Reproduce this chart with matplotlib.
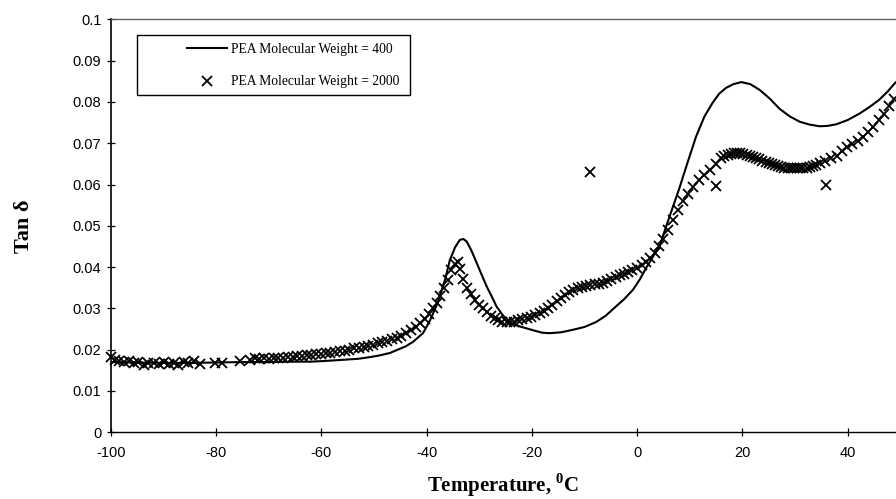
import numpy as np
import matplotlib.pyplot as plt
from matplotlib.patches import Rectangle

plt.rcParams['mathtext.fontset'] = 'custom'
plt.rcParams['mathtext.bf'] = 'Liberation Serif:bold'
plt.rcParams['mathtext.rm'] = 'Liberation Serif'
plt.rcParams['axes.unicode_minus'] = False

# PEA MW = 400 (solid curve)
temp_400 = [-100, -95, -90, -85, -80, -75, -70, -65, -62, -59, -56.5, -53, -50.8, -49, -47,
            -45.7, -44, -42.6, -40.7, -39.4, -38.1, -37.5, -36.5, -35.6, -34.6, -33.7, -33,
            -32.4, -31.5, -30.5, -29.5, -28.6, -27.6, -26.7, -25.5, -24.2, -22.5, -21.1, -19.5,
            -18, -16.6, -14.5, -12.3, -10, -7.8, -6, -4, -2.5, -0.8, 0.5, 1.8, 3, 4.3, 5.5, 6.8,
            8, 9.5, 11.2, 12.8, 14.3, 15.6, 16.9, 18.3, 19.8, 21.5, 23.3, 25.2, 27.1, 29, 30.9,
            32.8, 34.7, 36.3, 37.9, 40, 42.3, 44.2, 46, 47.6, 49.1]
tan_400 = [0.0170, 0.0169, 0.0168, 0.0168, 0.0169, 0.0170, 0.0170, 0.0171, 0.0171, 0.0173,
           0.0175, 0.0178, 0.0182, 0.0186, 0.0192, 0.0199, 0.0208, 0.0219, 0.0240, 0.0270,
           0.0308, 0.0330, 0.0370, 0.0417, 0.0448, 0.0466, 0.0468, 0.0462, 0.0440, 0.0410,
           0.0380, 0.0353, 0.0328, 0.0304, 0.0283, 0.0265, 0.0257, 0.0252, 0.0246, 0.0241,
           0.0240, 0.0242, 0.0248, 0.0255, 0.0267, 0.0282, 0.0305, 0.0322, 0.0345, 0.0370,
           0.0400, 0.0425, 0.0452, 0.0498, 0.0546, 0.0590, 0.0650, 0.0716, 0.0765, 0.0797,
           0.0820, 0.0834, 0.0843, 0.0848, 0.0843, 0.0829, 0.0808, 0.0783, 0.0765, 0.0752,
           0.0745, 0.0741, 0.0742, 0.0746, 0.0756, 0.0772, 0.0788, 0.0805, 0.0825, 0.0847]

# PEA MW = 2000 (x markers)
temp_2000 = [-100, -99.2, -98.4, -97.5, -96.6, -95.7, -94.8, -93.8, -92.9, -91.9, -90.9, -90,
             -89, -88.1, -87.2, -86.2, -85.3, -84.3, -83, -80.2, -79, -75.5, -73.6, -72.7,
             -71.8, -70.9, -70, -69.1, -68.2, -67.3, -66.4, -65.5, -64.6, -63.7, -62.8, -61.9,
             -61, -60.1, -59.2, -58.3, -57.4, -56.5, -55.6, -54.7, -53.8, -52.9, -52, -51.1,
             -50.2, -49.3, -48.4, -47.5, -46.6, -45.7, -44.8, -43.9, -43, -42.1, -41.2, -40.4,
             -39.5, -38.8, -38.1, -37.4, -36.7, -36, -35.3, -34.7, -34.1, -33.6, -33.1, -32.3,
             -31.6, -30.8, -30, -29.3, -28.6, -27.8, -27.1, -26.4, -25.6, -24.8, -24.1, -23.4,
             -22.6, -21.8, -21, -20.2, -19.4, -18.5, -17.7, -16.9, -16.1, -15.3, -14.5, -13.7,
             -12.9, -12.1, -11.3, -10.5, -9.7, -8.9, -8.1, -7.3, -6.5, -5.7, -4.9, -4.1, -3.3,
             -2.5, -1.7, -0.9, 0, 0.9, 1.7, 2.5, 3.3, 4.1, 4.9, 5.8, 6.8, 7.7, 8.7, 9.7, 10.7,
             11.7, 12.7, 13.8, 14.9, 16, 16.6, 17.2, 17.8, 18.4, 19, 19.6, 20.2, 20.8, 21.4, 22,
             22.6, 23.2, 23.8, 24.4, 25, 25.6, 26.2, 26.8, 27.4, 28, 28.6, 29.2, 29.8, 30.4, 31,
             31.6, 32.2, 32.8, 33.4, 34, 34.7, 35.7, 36.8, 37.9, 38.9, 39.9, 40.9, 41.9, 42.9,
             43.9, 44.9, 45.9, 46.9, 47.9, 48.9,
             -9, 15.0, 35.9]
tan_2000 = [0.0183, 0.0176, 0.0172, 0.0170, 0.0173, 0.0168, 0.0170, 0.0162, 0.0167, 0.0168,
            0.0166, 0.0169, 0.0165, 0.0168, 0.0164, 0.0170, 0.0168, 0.0172, 0.0165, 0.0167,
            0.0168, 0.0173, 0.0176, 0.0180, 0.0177, 0.0180, 0.0178, 0.0180, 0.0179, 0.0181,
            0.0182, 0.0183, 0.0184, 0.0185, 0.0186, 0.0188, 0.0189, 0.0190, 0.0191, 0.0193,
            0.0194, 0.0196, 0.0198, 0.0200, 0.0203, 0.0205, 0.0207, 0.0209, 0.0212, 0.0215,
            0.0218, 0.0221, 0.0225, 0.0229, 0.0234, 0.0240, 0.0248, 0.0255, 0.0264, 0.0275,
            0.0287, 0.0300, 0.0312, 0.0330, 0.0350, 0.0368, 0.0392, 0.0408, 0.0412, 0.0395,
            0.0370, 0.0350, 0.0335, 0.0320, 0.0308, 0.0300, 0.0292, 0.0282, 0.0277, 0.0272,
            0.0268, 0.0266, 0.0266, 0.0268, 0.0271, 0.0274, 0.0277, 0.0280, 0.0284, 0.0288,
            0.0293, 0.0300, 0.0309, 0.0318, 0.0326, 0.0333, 0.0339, 0.0345, 0.0350, 0.0353,
            0.0355, 0.0357, 0.0360, 0.0360, 0.0362, 0.0366, 0.0370, 0.0376, 0.0380, 0.0384,
            0.0388, 0.0392, 0.0398, 0.0405, 0.0413, 0.0422, 0.0435, 0.0450, 0.0468, 0.0490,
            0.0515, 0.0538, 0.0560, 0.0578, 0.0595, 0.0610, 0.0622, 0.0635, 0.0650, 0.0664,
            0.0668, 0.0672, 0.0674, 0.0676, 0.0677, 0.0676, 0.0674, 0.0672, 0.0670, 0.0667,
            0.0664, 0.0661, 0.0658, 0.0655, 0.0652, 0.0649, 0.0647, 0.0645, 0.0643, 0.0641,
            0.0640, 0.0639, 0.0639, 0.0639, 0.0640, 0.0640, 0.0641, 0.0643, 0.0645, 0.0648,
            0.0652, 0.0658, 0.0665, 0.0670, 0.0680, 0.0690, 0.0698, 0.0706, 0.0716, 0.0728,
            0.0740, 0.0755, 0.0770, 0.0790, 0.0808,
            0.0630, 0.0596, 0.0600]

x_ticks = [-100, -80, -60, -40, -20, 0, 20, 40]
y_ticks = [0, 0.01, 0.02, 0.03, 0.04, 0.05, 0.06, 0.07, 0.08, 0.09, 0.1]
y_tick_labels = ['0', '0.01', '0.02', '0.03', '0.04', '0.05', '0.06', '0.07', '0.08', '0.09', '0.1']

fig = plt.figure(figsize=(8.96, 4.99), dpi=100)
ax = fig.add_axes([0.1239, 0.1337, 0.8761, 0.8276])

ax.plot(temp_400, tan_400, color='black', lw=1.5, label='PEA Molecular Weight = 400')
ax.plot(temp_2000, tan_2000, ls='none', marker='x', ms=6.5, mew=1.3, color='black',
        clip_on=False, label='PEA Molecular Weight = 2000')

ax.set_xlim(-100, 49.2)
ax.set_ylim(0, 0.1)
ax.set_xticks(x_ticks)
ax.set_yticks(y_ticks)
ax.set_yticklabels(y_tick_labels)
ax.tick_params(direction='inout', length=6, width=0.9, labelsize=10.5, pad=4)
ax.tick_params(axis='x', pad=7)
for lab in ax.get_xticklabels() + ax.get_yticklabels():
    lab.set_family('Liberation Sans')

ax.spines['right'].set_visible(False)
ax.spines['top'].set_color('0.35')
ax.spines['top'].set_linewidth(0.9)
ax.spines['top'].set_linestyle((0, (1.2, 0.6)))
ax.spines['left'].set_linewidth(1.2)
ax.spines['bottom'].set_linewidth(1.0)

ax.set_xlabel(r'Temperature, $^{\mathbf{0}}$C', family='Liberation Serif', weight='bold',
              fontsize=15, labelpad=8)
ax.set_ylabel('Tan δ', family='Liberation Serif', weight='bold',
              fontsize=16, labelpad=28)

# legend frame drawn as a box, legend itself frameless
ax.add_patch(Rectangle((0.0331, 0.8167), 0.348, 0.1453, transform=ax.transAxes,
                       fill=False, edgecolor='black', lw=1.0, zorder=5))
ax.legend(loc='upper left', bbox_to_anchor=(0.092, 0.952), frameon=False,
          prop={'family': 'Liberation Serif', 'size': 9.8}, handlelength=2.9,
          handletextpad=0.3, labelspacing=1.4, borderpad=0.3, borderaxespad=0)

plt.savefig('out.png', dpi=100)
